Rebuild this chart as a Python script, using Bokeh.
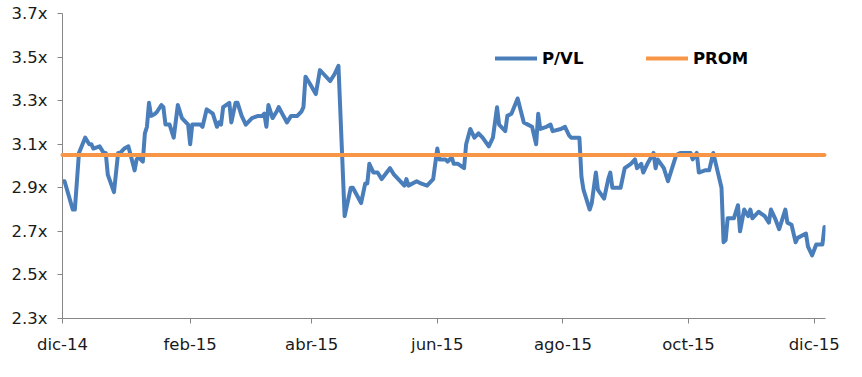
import pandas as pd
from bokeh.plotting import figure
from bokeh.models import (ColumnDataSource, Range1d, FixedTicker, PrintfTickFormatter,
                          Legend, LegendItem)
from bokeh.embed import file_html
from bokeh.resources import INLINE

# ---- data ----
dates = [
    "2014-12-01", "2014-12-02", "2014-12-06", "2014-12-07", "2014-12-09", "2014-12-12", "2014-12-14",
    "2014-12-15", "2014-12-16", "2014-12-19", "2014-12-21", "2014-12-22", "2014-12-23", "2014-12-26",
    "2014-12-28", "2014-12-29", "2014-12-31", "2015-01-02", "2015-01-05", "2015-01-06", "2015-01-07",
    "2015-01-09", "2015-01-10", "2015-01-11", "2015-01-12", "2015-01-13", "2015-01-15", "2015-01-16",
    "2015-01-18", "2015-01-19", "2015-01-20", "2015-01-22", "2015-01-24", "2015-01-26", "2015-01-28",
    "2015-01-31", "2015-02-01", "2015-02-02", "2015-02-04", "2015-02-06", "2015-02-07", "2015-02-09",
    "2015-02-12", "2015-02-14", "2015-02-15", "2015-02-16", "2015-02-17", "2015-02-20", "2015-02-21",
    "2015-02-23", "2015-02-24", "2015-02-26", "2015-02-28", "2015-03-03", "2015-03-06", "2015-03-08",
    "2015-03-09", "2015-03-10", "2015-03-11", "2015-03-12", "2015-03-13", "2015-03-15", "2015-03-16",
    "2015-03-20", "2015-03-22", "2015-03-25", "2015-03-27", "2015-03-28", "2015-03-29", "2015-03-31",
    "2015-04-03", "2015-04-05", "2015-04-07", "2015-04-10", "2015-04-12", "2015-04-14", "2015-04-17",
    "2015-04-20", "2015-04-21", "2015-04-25", "2015-04-27", "2015-04-28", "2015-04-29", "2015-05-01",
    "2015-05-03", "2015-05-05", "2015-05-09", "2015-05-11", "2015-05-16", "2015-05-17", "2015-05-18",
    "2015-05-22", "2015-05-24", "2015-05-27", "2015-05-30", "2015-06-01", "2015-06-02", "2015-06-05",
    "2015-06-06", "2015-06-08", "2015-06-09", "2015-06-11", "2015-06-14", "2015-06-15", "2015-06-17",
    "2015-06-19", "2015-06-21", "2015-06-23", "2015-06-26", "2015-06-28", "2015-06-30", "2015-07-01",
    "2015-07-04", "2015-07-05", "2015-07-07", "2015-07-10", "2015-07-13", "2015-07-15", "2015-07-17",
    "2015-07-19", "2015-07-20", "2015-07-21", "2015-07-24", "2015-07-26", "2015-07-27", "2015-07-31",
    "2015-08-02", "2015-08-04", "2015-08-05", "2015-08-09", "2015-08-10", "2015-08-11", "2015-08-14",
    "2015-08-15", "2015-08-17", "2015-08-18", "2015-08-21", "2015-08-23", "2015-08-24", "2015-08-25",
    "2015-08-29", "2015-08-31", "2015-09-03", "2015-09-05", "2015-09-06", "2015-09-08", "2015-09-09",
    "2015-09-11", "2015-09-14", "2015-09-15", "2015-09-16", "2015-09-19", "2015-09-21", "2015-09-23",
    "2015-09-25", "2015-09-27", "2015-09-29", "2015-10-02", "2015-10-03", "2015-10-05", "2015-10-06",
    "2015-10-09", "2015-10-11", "2015-10-13", "2015-10-15", "2015-10-17", "2015-10-18", "2015-10-19",
    "2015-10-20", "2015-10-23", "2015-10-25", "2015-10-26", "2015-10-28", "2015-10-30", "2015-10-31",
    "2015-11-01", "2015-11-04", "2015-11-07", "2015-11-09", "2015-11-10", "2015-11-12", "2015-11-14",
    "2015-11-17", "2015-11-18", "2015-11-20", "2015-11-22", "2015-11-23", "2015-11-27", "2015-11-28",
    "2015-11-30", "2015-12-02", "2015-12-05", "2015-12-06",
]
pvl = [
    2.93, 2.93, 2.80, 2.80, 3.06, 3.13, 3.10,
    3.10, 3.08, 3.09, 3.06, 3.06, 2.96, 2.88,
    3.06, 3.06, 3.08, 3.09, 2.98, 3.03, 3.04,
    3.02, 3.15, 3.18, 3.29, 3.23, 3.24, 3.25,
    3.28, 3.27, 3.19, 3.19, 3.13, 3.28, 3.22,
    3.19, 3.10, 3.19, 3.19, 3.19, 3.18, 3.26,
    3.24, 3.18, 3.20, 3.19, 3.27, 3.29, 3.20,
    3.29, 3.29, 3.23, 3.19, 3.22, 3.23, 3.23,
    3.24, 3.18, 3.28, 3.25, 3.22, 3.25, 3.27,
    3.20, 3.23, 3.23, 3.25, 3.27, 3.41, 3.38,
    3.33, 3.44, 3.42, 3.39, 3.42, 3.46, 2.77,
    2.90, 2.90, 2.83, 2.92, 2.92, 3.01, 2.97,
    2.97, 2.94, 2.99, 2.96, 2.91, 2.94, 2.91,
    2.93, 2.92, 2.91, 2.94, 3.08, 3.03, 3.03,
    3.02, 3.04, 3.01, 3.01, 2.99, 3.10, 3.17,
    3.13, 3.15, 3.13, 3.09, 3.13, 3.27, 3.19,
    3.16, 3.23, 3.24, 3.31, 3.20, 3.19, 3.18,
    3.10, 3.24, 3.17, 3.18, 3.19, 3.16, 3.17,
    3.18, 3.14, 3.13, 3.13, 2.95, 2.89, 2.80,
    2.83, 2.97, 2.89, 2.85, 2.94, 2.97, 2.90,
    2.90, 2.99, 3.01, 3.03, 2.99, 3.01, 2.97,
    3.01, 3.06, 2.99, 3.03, 2.99, 2.93, 2.99,
    3.05, 3.06, 3.06, 3.06, 3.03, 3.06, 2.97,
    2.98, 2.98, 3.06, 2.98, 2.90, 2.65, 2.66,
    2.76, 2.76, 2.82, 2.70, 2.80, 2.77, 2.80,
    2.76, 2.79, 2.77, 2.74, 2.80, 2.76, 2.71,
    2.80, 2.74, 2.73, 2.65, 2.67, 2.69, 2.63,
    2.59, 2.64, 2.64, 2.72,
]
prom_value = 3.05

tick_dates = ["2014-12-01", "2015-02-01", "2015-04-01", "2015-06-01",
              "2015-08-01", "2015-10-01", "2015-12-01"]
tick_labels = ["dic-14", "feb-15", "abr-15", "jun-15", "ago-15", "oct-15", "dic-15"]
y_ticks = [2.3, 2.5, 2.7, 2.9, 3.1, 3.3, 3.5, 3.7]

# ---- build ----
def ms(d):
    return float(pd.Timestamp(d).value // 10**6)

x = pd.to_datetime(dates)
src = ColumnDataSource(dict(x=x, pvl=pvl, prom=[prom_value] * len(dates)))

BLUE = "#4A7EBB"
ORANGE = "#F79646"
AXIS = "#868686"
FONT = "DejaVu Sans"
FS = "16.5px"

p = figure(output_backend="svg", toolbar_location=None,
           frame_width=763, frame_height=305,
           min_border_left=62, min_border_top=13, min_border_bottom=45, min_border_right=20,
           x_range=Range1d(ms("2014-12-01"), ms("2015-12-06 12:00")),
           y_range=Range1d(2.3, 3.7))
p.outline_line_color = None
p.xgrid.visible = False
p.ygrid.visible = False
p.background_fill_color = "white"
p.border_fill_color = "white"

r_prom = p.line("x", "prom", source=src, line_color=ORANGE, line_width=4, line_cap="round")
r_pvl = p.line("x", "pvl", source=src, line_color=BLUE, line_width=4,
               line_join="round", line_cap="round")
r_prom.level = "overlay"

xt = [ms(d) for d in tick_dates]
p.xaxis.ticker = FixedTicker(ticks=xt, minor_ticks=[])
p.xaxis.major_label_overrides = {t: l for t, l in zip(xt, tick_labels)}
p.yaxis.ticker = FixedTicker(ticks=y_ticks, minor_ticks=[])
p.yaxis.formatter = PrintfTickFormatter(format="%.1fx")

for ax in (p.xaxis[0], p.yaxis[0]):
    ax.axis_line_color = AXIS
    ax.major_tick_line_color = AXIS
    ax.minor_tick_line_color = None
    ax.major_tick_in = 0
    ax.major_tick_out = 5
    ax.major_label_text_font = FONT
    ax.major_label_text_font_size = FS
    ax.major_label_text_color = "#1a1a1a"
p.yaxis.major_label_standoff = 10
p.xaxis.major_label_standoff = 11

common = dict(orientation="horizontal", border_line_alpha=0, background_fill_alpha=0,
              padding=0, margin=0, glyph_width=42, glyph_height=20, label_height=20,
              label_standoff=5, label_text_font=FONT, label_text_font_style="bold",
              label_text_font_size=FS, label_text_color="#000000")
leg1 = Legend(items=[LegendItem(label="P/VL", renderers=[r_pvl])], location=(433, 250), **common)
leg2 = Legend(items=[LegendItem(label="PROM", renderers=[r_prom])], location=(584, 250), **common)
p.add_layout(leg1)
p.add_layout(leg2)

open("out.html", "w").write(file_html(p, INLINE))
